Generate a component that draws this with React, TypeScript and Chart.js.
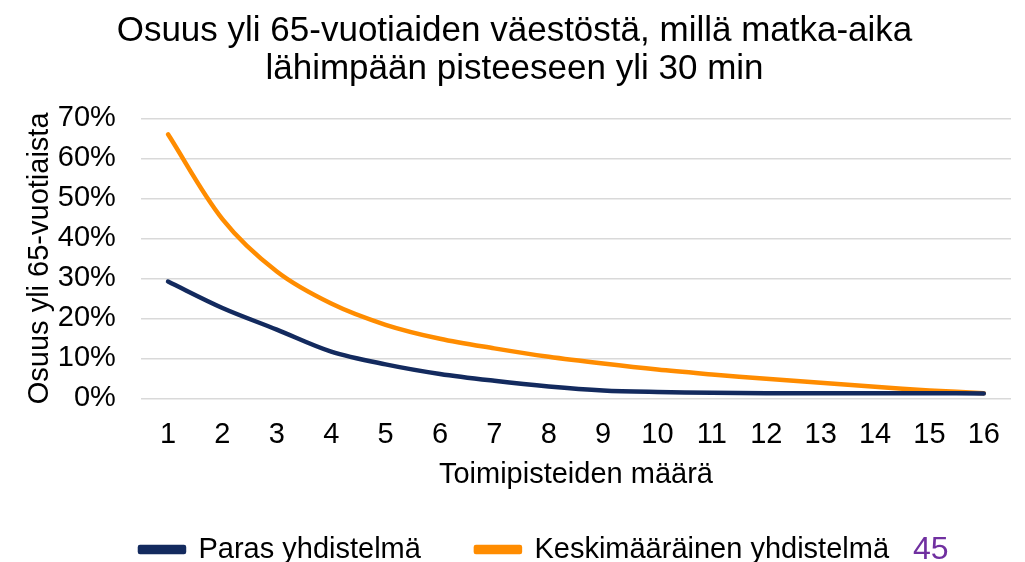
import React, { useEffect, useRef } from "react";
import { Chart, registerables } from "chart.js";

Chart.register(...registerables);

const categories = ["1", "2", "3", "4", "5", "6", "7", "8", "9", "10", "11", "12", "13", "14", "15", "16"];
const parasValues = [29.2, 22.6, 17.2, 11.7, 8.5, 6.1, 4.4, 3.0, 2.0, 1.6, 1.4, 1.3, 1.3, 1.3, 1.3, 1.2];
const keskiValues = [66.0, 44.8, 31.7, 23.7, 18.4, 14.9, 12.5, 10.4, 8.7, 7.2, 6.0, 4.9, 3.9, 2.9, 2.0, 1.3];
const yTicks = [0, 10, 20, 30, 40, 50, 60, 70];
const titleLines = ["Osuus yli 65-vuotiaiden väestöstä, millä matka-aika", "lähimpään pisteeseen yli 30 min"];
const seriesNames = ["Paras yhdistelmä", "Keskimääräinen yhdistelmä"];
const xTitle = "Toimipisteiden määrä";
const yTitle = "Osuus yli 65-vuotiaista";
const pageNumber = "45";

const FONT = "'Liberation Sans', Arial, sans-serif";
const NAVY = "#132A5E";
const ORANGE = "#FF8C00";

export default function App() {
  const ref = useRef<HTMLCanvasElement | null>(null);
  useEffect(() => {
    if (!ref.current) return;
    const chart = new Chart(ref.current, {
      type: "line",
      data: {
        labels: categories,
        datasets: [
          {
            label: seriesNames[0],
            data: parasValues,
            borderColor: NAVY,
            backgroundColor: NAVY,
            borderWidth: 4.5,
            pointRadius: 0,
            tension: 0.33,
            borderCapStyle: "round",
            borderJoinStyle: "round",
          },
          {
            label: seriesNames[1],
            data: keskiValues,
            borderColor: ORANGE,
            backgroundColor: ORANGE,
            borderWidth: 4.5,
            pointRadius: 0,
            tension: 0.33,
            borderCapStyle: "round",
            borderJoinStyle: "round",
          },
        ],
      },
      options: {
        responsive: false,
        animation: false,
        layout: { padding: { left: 14, right: 10, top: 0, bottom: -12 } },
        plugins: {
          title: {
            display: true,
            text: titleLines,
            color: "#000",
            font: { family: FONT, size: 35, weight: "normal", lineHeight: 1.09 },
            padding: { top: 12, bottom: 30 },
          },
          legend: {
            position: "bottom",
            labels: {
              color: "#000",
              font: { family: FONT, size: 29 },
              boxWidth: 44,
              boxHeight: 5,
              padding: 55,
            },
          },
          tooltip: { enabled: false },
        },
        scales: {
          x: {
            offset: true,
            grid: { display: false },
            border: { display: false },
            ticks: { color: "#000", font: { family: FONT, size: 29 }, padding: 11, maxRotation: 0, autoSkip: false },
            title: {
              display: true,
              text: xTitle,
              color: "#000",
              font: { family: FONT, size: 29 },
              padding: { top: -6, bottom: -12 },
            },
          },
          y: {
            min: 0,
            max: 70,
            afterBuildTicks: (s: any) => {
              s.ticks = yTicks.map((v) => ({ value: v }));
            },
            grid: { color: "#D9D9D9", lineWidth: 1.5, drawTicks: false },
            border: { display: false },
            ticks: {
              color: "#000",
              font: { family: FONT, size: 29 },
              padding: 25,
              autoSkip: false,
              callback: (v: any) => v + "%",
            },
            title: {
              display: true,
              text: yTitle,
              color: "#000",
              font: { family: FONT, size: 29 },
              padding: { top: 9, bottom: -25 },
            },
          },
          yRight: {
            position: "right",
            min: 0,
            max: 70,
            grid: { display: false },
            border: { display: false },
            ticks: { display: false },
            afterFit: (s: any) => {
              s.width = 4;
            },
          },
        },
      },
    });
    return () => chart.destroy();
  }, []);
  return (
    <div style={{ position: "absolute", left: 0, top: 0, width: 1025, height: 562, background: "#fff" }}>
      <canvas ref={ref} width={1025} height={562} style={{ display: "block" }} />
      <div
        style={{
          position: "absolute",
          left: 913,
          top: 532,
          fontFamily: FONT,
          fontSize: 32,
          lineHeight: "32px",
          color: "#7030A0",
        }}
      >
        {pageNumber}
      </div>
    </div>
  );
}
